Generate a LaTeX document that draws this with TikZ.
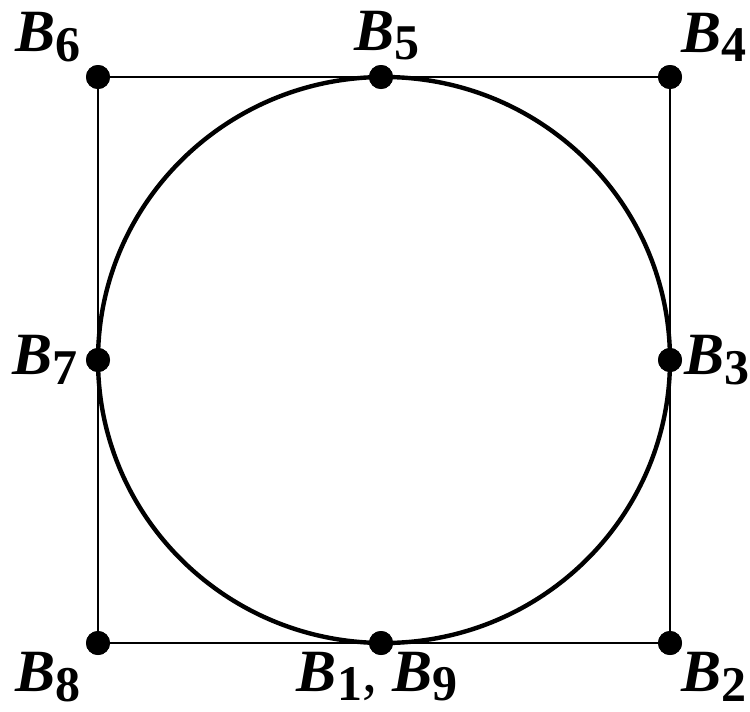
\documentclass[tikz,border=0pt]{standalone}
\usepackage{fontspec}
\setmainfont{Liberation Serif}
\usetikzlibrary{positioning}

\newcommand{\bname}[1]{\textbf{\textit{B}}\raisebox{-0.35ex}{\fontsize{25}{28}\selectfont\textbf{#1}}}

\begin{document}
\begin{tikzpicture}[
    x=0.5pt, y=-0.5pt,
    dot/.style={
        circle,
        fill=black,
        inner sep=0pt,
        minimum size=12pt
    },
    lab/.style={
        inner sep=0pt,
        font=\fontsize{30}{34}\selectfont
    },
    edge/.style={
        line width=1pt
    },
    ring/.style={
        line width=2.2pt
    }
]
\useasboundingbox (0,0) rectangle (750,712);

\coordinate (c) at (384,360);

\node[dot] (b6) at (98,77) {};
\node[dot] (b5) at (381,77) {};
\node[dot] (b4) at (670,77) {};
\node[dot] (b7) at (98,360) {};
\node[dot] (b3) at (670,360) {};
\node[dot] (b8) at (98,643) {};
\node[dot] (b1) at (381,643) {};
\node[dot] (b2) at (670,643) {};

\draw[edge] (b8.center) -- (b2.center) -- (b4.center) -- (b6.center) -- cycle;
\draw[ring] (c) ellipse [x radius=143pt, y radius=141.5pt];

\node[dot] at (b6) {};
\node[dot] at (b5) {};
\node[dot] at (b4) {};
\node[dot] at (b7) {};
\node[dot] at (b3) {};
\node[dot] at (b8) {};
\node[dot] at (b1) {};
\node[dot] at (b2) {};

\node[lab, above left=3pt and 4pt of b6] (l6) {\bname{6}};
\node[lab, above=2pt of b5, xshift=3pt] (l5) {\bname{5}};
\node[lab, above right=3pt and 1pt of b4] (l4) {\bname{4}};
\node[lab, left=4pt of b7] (l7) {\bname{7}};
\node[lab, right=1pt of b3] (l3) {\bname{3}};
\node[lab, below left=0pt and 4pt of b8] (l8) {\bname{8}};
\node[lab, below=-2pt of b1, xshift=-2pt] (l1) {\bname{1}, \bname{9}};
\node[lab, below right=0pt and 1pt of b2] (l2) {\bname{2}};

\end{tikzpicture}
\end{document}
